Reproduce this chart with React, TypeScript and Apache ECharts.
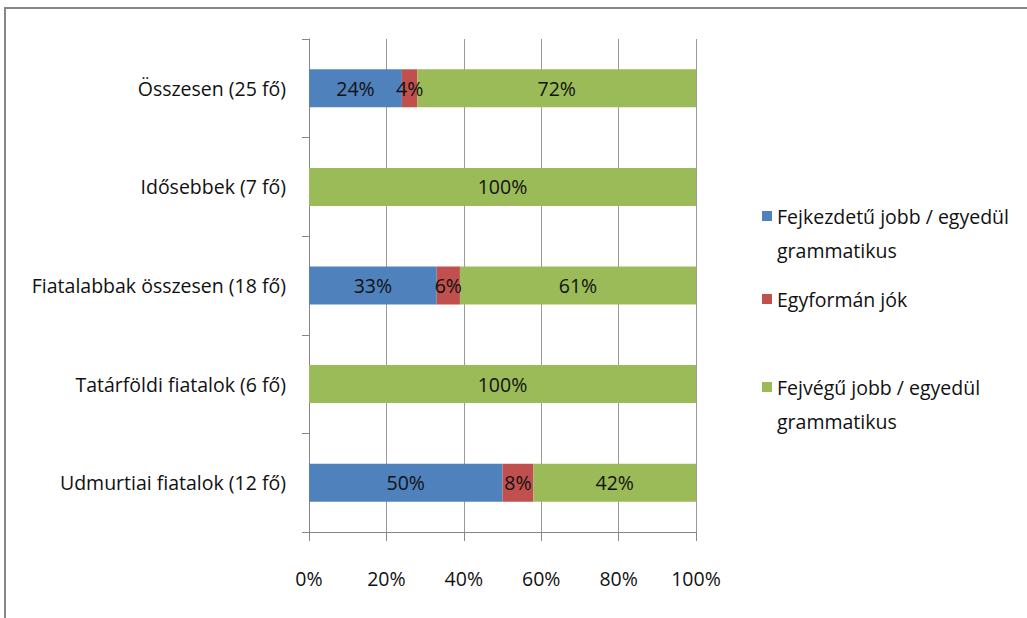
import React, { useEffect, useRef } from "react";
import * as echarts from "echarts";

const categories = [
  "Összesen (25 fő)",
  "Idősebbek (7 fő)",
  "Fiatalabbak összesen (18 fő)",
  "Tatárföldi fiatalok (6 fő)",
  "Udmurtiai fiatalok (12 fő)",
];
const seriesNames = [
  "Fejkezdetű jobb / egyedül grammatikus",
  "Egyformán jók",
  "Fejvégű jobb / egyedül grammatikus",
];
const legendLabels = [
  "Fejkezdetű jobb / egyedül\ngrammatikus",
  "Egyformán jók",
  "Fejvégű jobb / egyedül\ngrammatikus",
];
const fejkezdetu = [24, 0, 33, 0, 50];
const egyforman = [4, 0, 6, 0, 8];
const fejvegu = [72, 100, 61, 100, 42];
const colors = ["#4F81BD", "#C0504D", "#9BBB59"];

const FONT = "Open Sans";
const FS = 19.5;

export default function App() {
  const ref = useRef<HTMLDivElement>(null);
  useEffect(() => {
    if (!ref.current) return;
    const chart = echarts.init(ref.current, null, { renderer: "svg" });
    const values = [fejkezdetu, egyforman, fejvegu];
    const legendTops = [194, 277, 365];
    chart.setOption({
      animation: false,
      backgroundColor: "#fff",
      textStyle: { fontFamily: FONT },
      graphic: [
        {
          type: "rect",
          shape: { x: 5, y: 8, width: 1030, height: 700 },
          style: { fill: "none", stroke: "#878787", lineWidth: 2 },
          silent: true,
        },
      ],
      grid: { left: 309, right: 331, top: 39, bottom: 86, containLabel: false },
      xAxis: {
        type: "value",
        min: 0,
        max: 100,
        interval: 20,
        axisLine: { show: true, lineStyle: { color: "#868686", width: 1 } },
        axisTick: { show: true, length: 9, lineStyle: { color: "#868686" } },
        splitLine: { show: true, lineStyle: { color: "#9a9a9a", width: 1 } },
        axisLabel: {
          formatter: "{value}%",
          margin: 36,
          fontSize: FS,
          color: "#111",
          fontFamily: FONT,
        },
      },
      yAxis: {
        type: "category",
        data: categories,
        inverse: true,
        axisLine: { show: true, lineStyle: { color: "#868686", width: 1 } },
        axisTick: { show: true, length: 7, lineStyle: { color: "#868686" } },
        splitLine: { show: false },
        axisLabel: { margin: 23, fontSize: FS, color: "#111", fontFamily: FONT },
      },
      legend: seriesNames.map((n, i) => {
        const twoLine = legendLabels[i].includes("\n");
        return {
          data: [n],
          left: 757,
          top: legendTops[i],
          orient: "vertical",
          itemWidth: 10,
          itemHeight: twoLine ? 44 : 10,
          icon: twoLine ? "path://M0,0H10V10H0Z M0,44H10V44.01H0Z" : "rect",
          formatter: () => legendLabels[i],
          textStyle: {
            fontSize: FS,
            lineHeight: 34,
            color: "#111",
            fontFamily: FONT,
          },
        };
      }),
      series: seriesNames.map((n, i) => ({
        name: n,
        type: "bar",
        stack: "total",
        barWidth: 38,
        itemStyle: { color: colors[i] },
        label: {
          show: true,
          position: "inside",
          color: "#111",
          fontSize: FS,
          fontFamily: FONT,
          formatter: (p: any) => (p.value === 0 ? "" : p.value + "%"),
        },
        data: values[i],
      })),
    });
    return () => chart.dispose();
  }, []);
  return (
    <div
      ref={ref}
      style={{ position: "fixed", left: 0, top: 0, width: 1027, height: 618 }}
    />
  );
}
